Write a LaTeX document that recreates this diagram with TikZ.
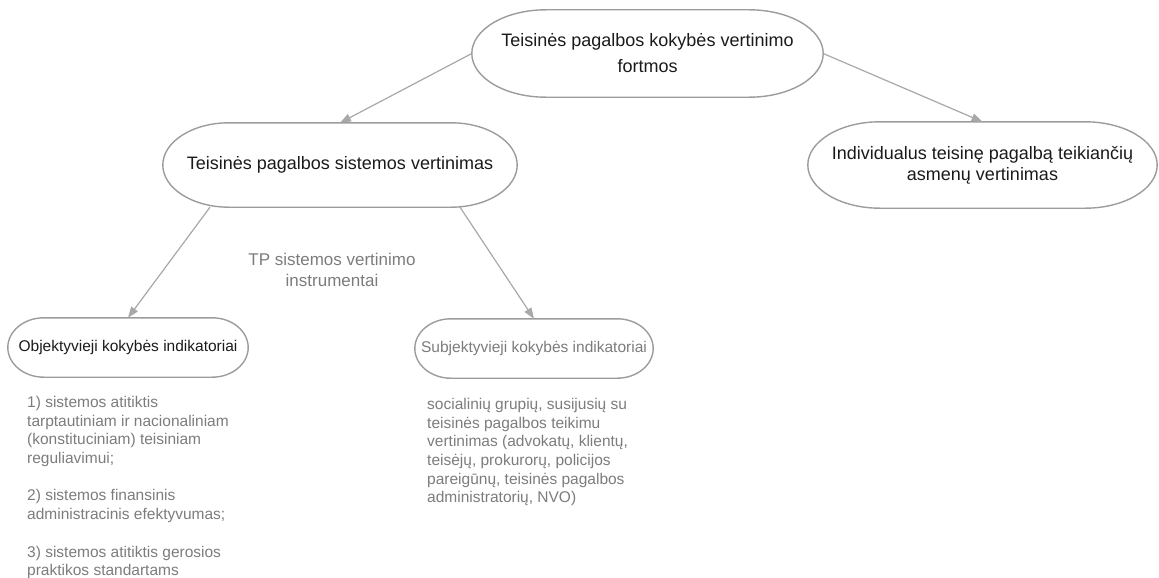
\documentclass[tikz,border=0pt]{standalone}
\usepackage{fontspec}
\setmainfont{Liberation Sans}
\usetikzlibrary{arrows.meta,calc}
\definecolor{RimGrey}{HTML}{9C9C9C}
\definecolor{EdgeGrey}{HTML}{A8A8A8}
\definecolor{NoteGrey}{HTML}{7C7C7C}
\definecolor{InkBlack}{HTML}{1A1A1A}

\begin{document}
\begin{tikzpicture}[x=1pt, y=-1pt,
  form/.style={
    rectangle, inner sep=0pt, align=center, text=InkBlack,
    font=\fontsize{18}{26}\selectfont
  },
  indicator/.style={
    rectangle, inner sep=0pt, align=center, minimum height=59pt,
    font=\fontsize{15.5}{18}\selectfont
  },
  note/.style={
    inner sep=0pt, align=left, text=NoteGrey,
    font=\fontsize{15.5}{18.7}\selectfont
  },
  rim/.style={draw=RimGrey, line width=1.4pt},
  arrow/.style={-{Triangle[length=11pt,width=8pt]}, line width=1.2pt, draw=EdgeGrey}
]
\useasboundingbox (0,0) rectangle (1159,578);

\node[form, minimum width=351pt, minimum height=87pt] (forms) at (647.5,53.5)
{Teisinės pagalbos kokybės vertinimo\\fortmos};
\node[form, minimum width=354pt, minimum height=84pt] (system) at (340,165)
{Teisinės pagalbos sistemos vertinimas};
\node[form, minimum width=349pt, minimum height=86pt,
  font=\fontsize{18}{21}\selectfont] (persons) at (982.5,165)
{Individualus teisinę pagalbą teikiančių\\asmenų vertinimas};
\node[indicator, minimum width=240pt, text=InkBlack] (objective) at (128,347.5)
{Objektyvieji kokybės indikatoriai};
\node[indicator, minimum width=238pt, text=NoteGrey] (subjective) at (534,348.5)
{Subjektyvieji kokybės indikatoriai};

\node[note, align=center, font=\fontsize{17}{21}\selectfont] (tools) at (332,269.5)
{TP sistemos vertinimo\\instrumentai};
\node[note, anchor=north west] (objlist) at (27,396)
{1) sistemos atitiktis\\
tarptautiniam ir nacionaliniam\\
(konstituciniam) teisiniam\\
reguliavimui;\\[18.7pt]
2) sistemos finansinis\\
administracinis efektyvumas;\\[18.7pt]
3) sistemos atitiktis gerosios\\
praktikos standartams};
\node[note, anchor=north west] (subjlist) at (427,398)
{socialinių grupių, susijusių su\\
teisinės pagalbos teikimu\\
vertinimas (advokatų, klientų,\\
teisėjų, prokurorų, policijos\\
pareigūnų, teisinės pagalbos\\
administratorių, NVO)};

% outlines: flat top and bottom, oval ends
\foreach \n/\r in {forms/74, system/66, persons/72, objective/36, subjective/36}{
  \draw[rim] (\n.west)
    .. controls ($(\n.west)!0.55!(\n.north west)$) and ($(\n.north west)+(0.45*\r,0)$) .. ($(\n.north west)+(\r,0)$)
    -- ($(\n.north east)+(-\r,0)$)
    .. controls ($(\n.north east)+(-0.45*\r,0)$) and ($(\n.east)!0.55!(\n.north east)$) .. (\n.east)
    .. controls ($(\n.east)!0.55!(\n.south east)$) and ($(\n.south east)+(-0.45*\r,0)$) .. ($(\n.south east)+(-\r,0)$)
    -- ($(\n.south west)+(\r,0)$)
    .. controls ($(\n.south west)+(0.45*\r,0)$) and ($(\n.west)!0.55!(\n.south west)$) .. (\n.west)
    -- cycle;
}

\draw[arrow] (forms.west) -- (system.north);
\draw[arrow] (forms.east) -- (persons.north);
\draw[arrow] ([xshift=-130pt]system.south) -- (objective.north);
\draw[arrow] ([xshift=120pt]system.south) -- (subjective.north);
\end{tikzpicture}
\end{document}
